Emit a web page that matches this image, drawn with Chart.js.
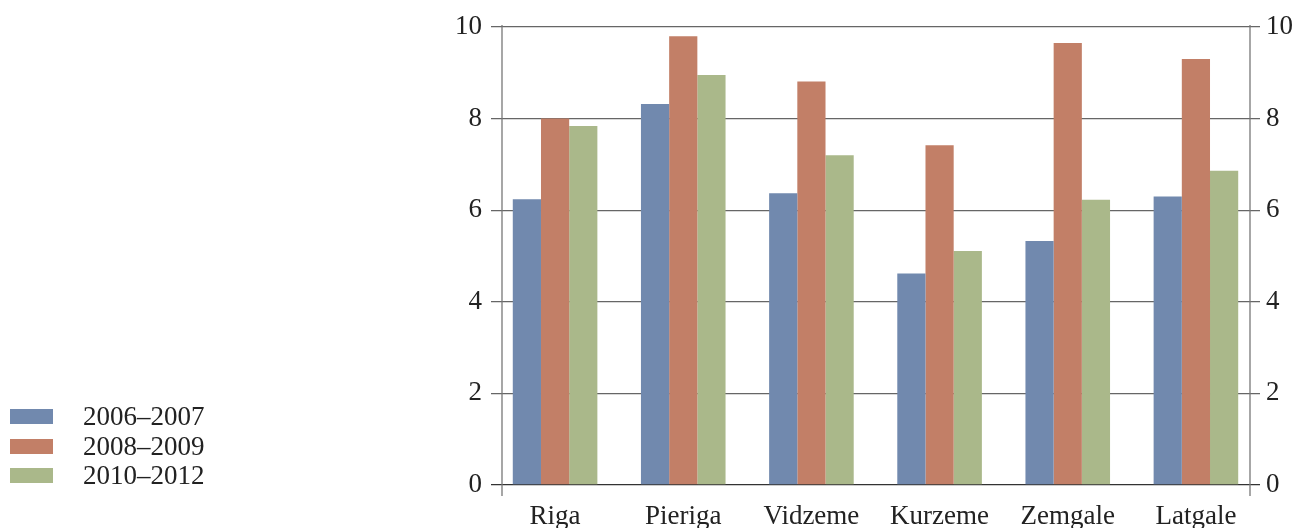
<!DOCTYPE html>
<html>
<head>
<meta charset="utf-8">
<script src="https://cdn.jsdelivr.net/npm/chart.js@4"></script>
<style>
  html, body { margin: 0; padding: 0; background: #fff; }
  #wrap { position: relative; width: 1293px; height: 528px; }
  #legend { position: absolute; left: 10px; top: 402px; font-family: "Liberation Serif", serif; font-size: 27px; color: #222; }
  #legend div { height: 29.5px; display: flex; align-items: center; }
  #legend span.box { display: inline-block; width: 43px; height: 15px; margin-right: 30px; }
</style>
</head>
<body>
<div id="wrap">
  <canvas id="chart" width="1293" height="528"></canvas>
  <div id="legend"></div>
</div>
<script>
const regions = ['Riga', 'Pieriga', 'Vidzeme', 'Kurzeme', 'Zemgale', 'Latgale'];
const periods = ['2006\u20132007', '2008\u20132009', '2010\u20132012'];
const values2006 = [6.24, 8.32, 6.37, 4.62, 5.33, 6.30];
const values2008 = [8.00, 9.80, 8.81, 7.42, 9.65, 9.30];
const values2010 = [7.84, 8.95, 7.20, 5.11, 6.23, 6.86];
const colors = ['#7189ae', '#c27f67', '#aab88a'];
const yTicks = [0, 2, 4, 6, 8, 10];

const font = { family: 'Liberation Serif', size: 27 };

// axis lines sit a bit inside the gridline span, like the original figure
const axisLines = {
    id: 'axisLines',
    afterDraw(chart) {
        const { ctx, chartArea } = chart;
        ctx.save();
        ctx.strokeStyle = '#777';
        ctx.lineWidth = 1.3;
        [chartArea.left + 11, chartArea.right - 10].forEach(x => {
            ctx.beginPath();
            ctx.moveTo(x, chartArea.top - 2);
            ctx.lineTo(x, chartArea.bottom + 11);
            ctx.stroke();
        });
        ctx.restore();
    }
};

const seriesData = [values2006, values2008, values2010];

new Chart(document.getElementById('chart'), {
    type: 'bar',
    data: {
        labels: regions,
        datasets: periods.map((p, i) => ({
            label: p,
            data: seriesData[i],
            backgroundColor: colors[i],
            borderWidth: 0,
            barPercentage: 1,
            categoryPercentage: 0.66
        }))
    },
    options: {
        responsive: false,
        animation: false,
        layout: { padding: { top: 27, left: 0, right: 0, bottom: 0 } },
        plugins: { legend: { display: false }, tooltip: { enabled: false } },
        scales: {
            x: {
                grid: { display: false },
                border: { display: false },
                ticks: { font: font, color: '#222', padding: 8, maxRotation: 0 },
                afterFit(scale) { scale.height = 43; }
            },
            y: {
                min: 0, max: 10,
                afterBuildTicks(scale) { scale.ticks = yTicks.map(v => ({ value: v })); },
                grid: { color: ctx => ctx.tick && ctx.tick.value === 0 ? '#333' : '#666', lineWidth: 1.3, drawTicks: false },
                border: { display: false },
                ticks: { font: font, color: '#222', padding: 9 },
                afterFit(scale) { scale.width = 491; }
            },
            y2: {
                position: 'right',
                min: 0, max: 10,
                afterBuildTicks(scale) { scale.ticks = yTicks.map(v => ({ value: v })); },
                grid: { display: false, drawTicks: false },
                border: { display: false },
                ticks: { font: font, color: '#222', padding: 6 },
                afterFit(scale) { scale.width = 33; }
            }
        }
    },
    plugins: [axisLines]
});

const legend = document.getElementById('legend');
periods.forEach((p, i) => {
    legend.innerHTML += `<div><span class="box" style="background:${colors[i]}"></span>${p}</div>`;
});
</script>
</body>
</html>
